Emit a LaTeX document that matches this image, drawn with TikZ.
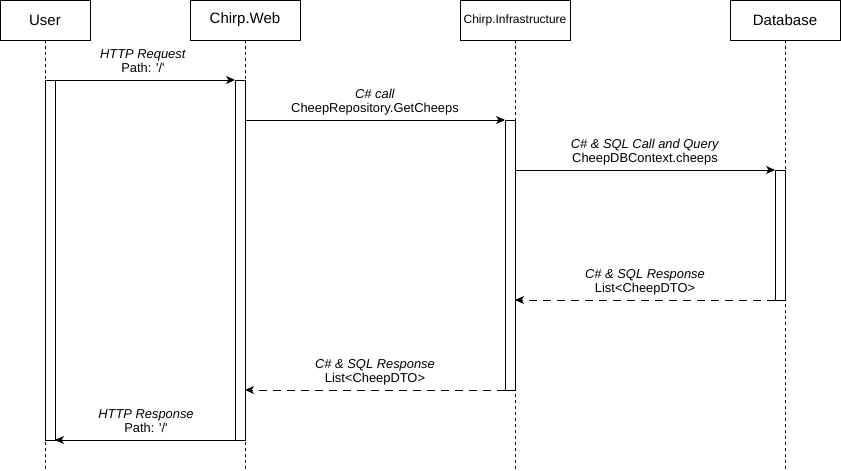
\documentclass[tikz,border=0pt]{standalone}
\usepackage{fontspec}
\setmainfont{Liberation Sans}
\usetikzlibrary{arrows.meta}
\begin{document}
\begin{tikzpicture}[x=1pt,y=-1pt,
  actor/.style={draw=black,line width=1pt,fill=white,minimum width=110pt,minimum height=40pt,inner sep=0pt,outer sep=0pt,font=\fontsize{15}{18}\selectfont},
  bar/.style={draw=black,line width=1pt,fill=white,minimum width=10pt,inner sep=0pt,outer sep=0pt,anchor=north west},
  life/.style={line width=1pt,dash pattern=on 3pt off 3pt},
  msg/.style={line width=1pt,-{Stealth[length=9pt,width=8pt,inset=2.5pt]}},
  ret/.style={msg,dash pattern=on 8pt off 6pt},
  lbl/.style={anchor=south,inner sep=0pt,text depth=0pt,align=center,font=\fontsize{12.9}{13.7}\selectfont}
]
\useasboundingbox (0,0) rectangle (841,471);
% actors
\node[actor,minimum width=90pt] (user) at (45,20) {User};
\node[actor] (web) at (245,20) {Chirp.Web};
\node[actor,font=\fontsize{12}{14}\selectfont] (infra) at (515,20) {Chirp.Infrastructure};
\node[actor] (db) at (785,20) {Database};
% lifeline ends
\coordinate (userend) at (45,471);
\coordinate (webend) at (245,471);
\coordinate (infraend) at (515,471);
\coordinate (dbend) at (785,471);
\draw[life] (user.south) -- (userend);
\draw[life] (web.south) -- (webend);
\draw[life] (infra.south) -- (infraend);
\draw[life] (db.south) -- (dbend);
% activation bars
\node[bar,minimum height=360pt] (userbar) at (45,80) {};
\node[bar,minimum height=360pt] (webbar) at (235,80) {};
\node[bar,minimum height=270pt] (infrabar) at (505,120) {};
\node[bar,minimum height=130pt] (dbbar) at (775,170) {};
% messages
\draw[msg] (userbar.north west) -- (webbar.north west);
\draw[msg] (webbar.east |- infrabar.north) -- (infrabar.north west);
\draw[msg] (infrabar.east |- dbbar.north) -- (dbbar.north west);
\draw[ret] (dbbar.south west) -- (infrabar.east |- dbbar.south);
\draw[ret] (infrabar.south west) -- (webbar.east |- infrabar.south);
\draw[msg] (webbar.south west) -- (userbar.south east);
% labels
\node[lbl] (l1) at (143,72.7) {\textit{HTTP Request}\\Path: \textquotesingle/\textquotesingle};
\node[lbl] (l2) at (375,112.7) {\textit{C\# call}\\CheepRepository.GetCheeps};
\node[lbl] (l3) at (645,162.7) {\textit{C\# \& SQL Call and Query}\\CheepDBContext.cheeps};
\node[lbl] (l4) at (645,292.7) {\textit{C\# \& SQL Response}\\List<CheepDTO>};
\node[lbl] (l5) at (375,382.7) {\textit{C\# \& SQL Response}\\List<CheepDTO>};
\node[lbl] (l6) at (146,432.7) {\textit{HTTP Response}\\Path: \textquotesingle/\textquotesingle};
\end{tikzpicture}
\end{document}
